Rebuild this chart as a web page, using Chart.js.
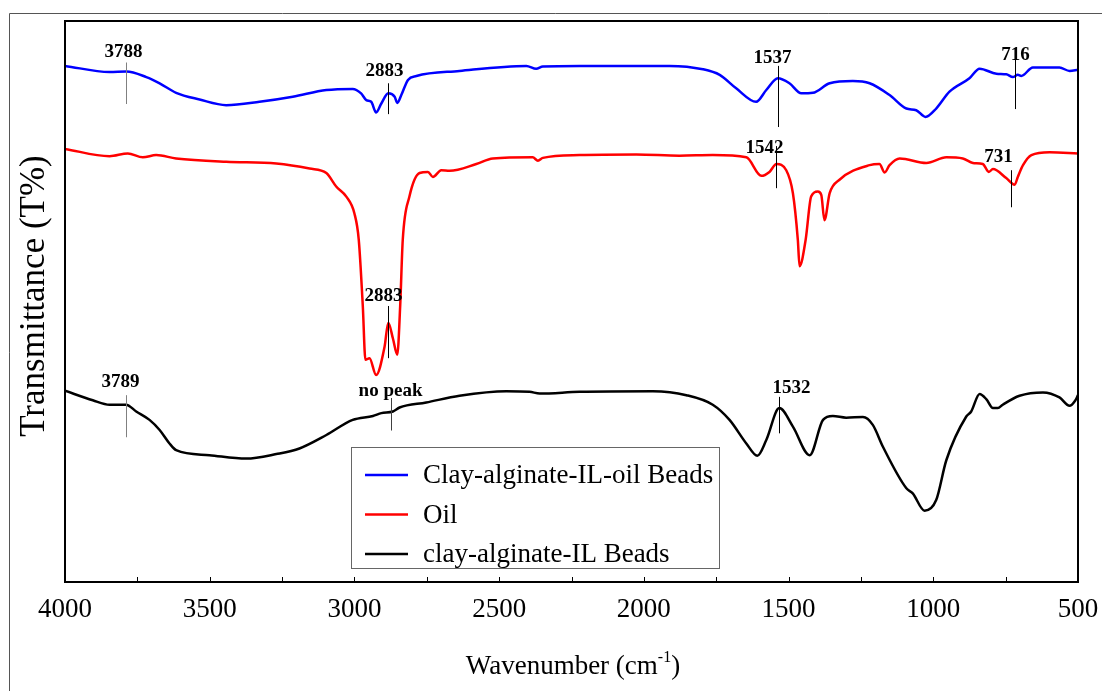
<!DOCTYPE html>
<html>
<head>
<meta charset="utf-8">
<script src="https://cdn.jsdelivr.net/npm/chart.js@4.4.1/dist/chart.umd.min.js"></script>
<style>
  html, body { margin: 0; padding: 0; background: #ffffff; }
  #wrap { width: 1102px; height: 691px; }
</style>
</head>
<body>
<div id="wrap"><canvas id="ftir" width="1102" height="691"></canvas></div>
<script>
// FTIR spectra: wavenumber (cm-1) vs. transmittance (offset, arbitrary units)
const seriesNames = ['Clay-alginate-IL-oil Beads', 'Oil', 'clay-alginate-IL Beads'];
const seriesColors = ['#0000ff', '#ff0000', '#000000'];

const beadsOilWavenumber = [4000, 3846, 3788, 3719, 3673, 3616, 3535, 3443, 3328, 3213, 3097, 3006, 2977, 2959, 2942, 2925, 2907, 2883, 2861, 2852, 2838, 2815, 2786, 2637, 2406, 2372, 2349, 2222, 1911, 1796, 1738, 1681, 1612, 1577, 1537, 1497, 1456, 1416, 1358, 1278, 1220, 1151, 1093, 1059, 1027, 990, 944, 875, 840, 782, 748, 725, 708, 696, 656, 564, 529, 500];
const beadsOilT = [92.0, 90.9, 91.0, 90.0, 88.9, 87.2, 86.0, 85.0, 85.6, 86.5, 87.7, 87.9, 87.1, 85.9, 85.6, 83.7, 85.3, 87.1, 86.5, 85.4, 86.8, 89.5, 90.2, 91.1, 92.0, 91.5, 91.9, 92.0, 92.0, 91.4, 90.4, 88.0, 85.6, 87.7, 89.8, 88.9, 87.1, 87.2, 88.9, 89.3, 88.9, 86.8, 84.4, 84.1, 82.9, 84.4, 87.4, 89.8, 91.5, 90.6, 90.5, 90.0, 90.4, 90.2, 91.7, 91.7, 91.1, 91.3];

const oilWavenumber = [4000, 3846, 3783, 3731, 3685, 3616, 3443, 3270, 3155, 3097, 3063, 3028, 3000, 2985, 2971, 2962, 2948, 2925, 2896, 2883, 2867, 2852, 2842, 2833, 2810, 2775, 2746, 2729, 2700, 2671, 2579, 2522, 2384, 2366, 2349, 2222, 2026, 1877, 1762, 1646, 1594, 1566, 1542, 1508, 1485, 1468, 1462, 1441, 1422, 1399, 1387, 1376, 1358, 1324, 1220, 1186, 1168, 1151, 1116, 1024, 955, 898, 863, 829, 808, 794, 748, 719, 708, 690, 661, 598, 500];
const oilT = [77.2, 75.9, 76.4, 75.7, 76.1, 75.5, 74.9, 74.6, 73.7, 72.9, 70.5, 68.7, 65.7, 61.0, 49.1, 39.6, 39.9, 36.9, 41.9, 46.2, 43.4, 40.5, 49.1, 61.0, 68.7, 72.9, 73.1, 72.2, 73.4, 73.3, 74.5, 75.5, 75.7, 75.1, 75.6, 76.1, 76.2, 76.0, 76.1, 75.7, 72.4, 73.1, 74.5, 73.4, 69.3, 61.0, 56.3, 61.0, 68.7, 69.6, 69.0, 64.5, 69.3, 71.7, 74.3, 74.5, 73.0, 74.3, 75.5, 74.7, 75.7, 75.5, 74.7, 74.5, 73.1, 73.6, 72.0, 70.8, 72.2, 74.3, 76.1, 76.6, 76.4];

const beadsWavenumber = [4000, 3904, 3846, 3789, 3754, 3708, 3673, 3639, 3616, 3501, 3374, 3270, 3190, 3097, 3006, 2936, 2907, 2867, 2844, 2752, 2637, 2475, 2395, 2360, 2222, 1969, 1853, 1762, 1704, 1646, 1608, 1577, 1532, 1485, 1427, 1381, 1347, 1301, 1243, 1209, 1174, 1093, 1071, 1030, 990, 955, 886, 869, 840, 817, 794, 777, 760, 702, 621, 564, 529, 510, 500];
const beadsT = [34.1, 32.4, 31.6, 31.6, 30.4, 28.9, 27.1, 24.7, 23.5, 22.6, 22.0, 22.8, 23.8, 26.2, 28.9, 29.6, 30.1, 30.4, 31.1, 32.0, 33.2, 34.0, 33.9, 33.6, 33.9, 34.0, 33.3, 31.6, 28.9, 24.7, 22.5, 25.3, 31.0, 27.7, 22.6, 28.9, 29.6, 29.3, 29.4, 28.0, 24.1, 16.7, 15.8, 12.7, 14.6, 21.7, 29.5, 30.4, 33.5, 32.6, 31.0, 31.0, 31.6, 33.2, 33.8, 32.9, 31.4, 32.3, 33.3];

// x-axis ticks (cm-1): labelled every 500, minor marks every 250
const xTickLabels = [4000, 3500, 3000, 2500, 2000, 1500, 1000, 500];

// marked peaks
const peakSeries = [0, 0, 0, 0, 1, 1, 1, 2, 2, 2];
const peakWavenumber = [3788, 2883, 1537, 716, 1542, 731, 2883, 3789, 2872, 1532];
const peakText = ['3788', '2883', '1537', '716', '1542', '731', '2883', '3789', 'no peak', '1532'];

// placement of each peak marker: text centre (y, px shift) and marker line ends, in axis units
const peakLayout = [
  { textY: 94.5, dx: -3,  top: 92.6, bottom: 85.2, color: '#808080' },
  { textY: 91.1, dx: -4,  top: 88.9, bottom: 83.4, color: '#000000' },
  { textY: 93.4, dx: -6,  top: 92.0, bottom: 81.1, color: '#000000' },
  { textY: 93.9, dx: 0,   top: 93.6, bottom: 84.3, color: '#000000' },
  { textY: 77.3, dx: -12, top: 77.7, bottom: 70.2, color: '#000000' },
  { textY: 75.7, dx: -13, top: 73.4, bottom: 66.8, color: '#000000' },
  { textY: 51.0, dx: -5,  top: 49.2, bottom: 39.9, color: '#000000' },
  { textY: 35.7, dx: -6,  top: 33.3, bottom: 25.8, color: '#808080' },
  { textY: 34.0, dx: -1,  top: 32.8, bottom: 27.0, color: '#404040' },
  { textY: 34.6, dx: 12,  top: 33.0, bottom: 26.5, color: '#000000' }
];

function toPoints(xs, ys) {
  return xs.map((x, i) => ({ x: x, y: ys[i] }));
}

const SERIF = '"Liberation Serif", "Times New Roman", serif';

// frame, tick marks, peak markers, axis titles and the legend box
const decorations = {
  id: 'decorations',
  afterDatasetsDraw(chart) {
    const ctx = chart.ctx;
    const a = chart.chartArea;
    const xs = chart.scales.x;
    const ys = chart.scales.y;
    ctx.save();

    // outer figure border
    ctx.strokeStyle = '#555555';
    ctx.lineWidth = 1;
    ctx.beginPath();
    ctx.moveTo(9.5, 691);
    ctx.lineTo(9.5, 13.5);
    ctx.lineTo(1102, 13.5);
    ctx.stroke();

    // plot frame
    ctx.strokeStyle = '#000000';
    ctx.lineWidth = 2;
    ctx.strokeRect(a.left, a.top, a.right - a.left, a.bottom - a.top);

    // inward tick marks on the wavenumber axis
    ctx.lineWidth = 1;
    for (let w = 750; w < 4000; w += 250) {
      const px = Math.round(xs.getPixelForValue(w)) + 0.5;
      ctx.beginPath();
      ctx.moveTo(px, a.bottom);
      ctx.lineTo(px, a.bottom - 5);
      ctx.stroke();
    }

    // peak markers
    ctx.font = 'bold 19px ' + SERIF;
    ctx.textAlign = 'center';
    ctx.textBaseline = 'middle';
    peakWavenumber.forEach((w, i) => {
      const L = peakLayout[i];
      const px = Math.round(xs.getPixelForValue(w)) + 0.5;
      ctx.strokeStyle = L.color;
      ctx.lineWidth = 1;
      ctx.beginPath();
      ctx.moveTo(px, ys.getPixelForValue(L.top));
      ctx.lineTo(px, ys.getPixelForValue(L.bottom));
      ctx.stroke();
      ctx.fillStyle = '#000000';
      ctx.fillText(peakText[i], px + L.dx, ys.getPixelForValue(L.textY));
    });

    // y-axis title
    ctx.save();
    ctx.translate(35, 296);
    ctx.rotate(-Math.PI / 2);
    ctx.font = '35px ' + SERIF;
    ctx.fillStyle = '#000000';
    ctx.textAlign = 'center';
    ctx.textBaseline = 'middle';
    ctx.fillText('Transmittance (T%)', 0, 0);
    ctx.restore();

    // x-axis title with superscript
    const main1 = 'Wavenumber (cm';
    const sup = '-1';
    const main2 = ')';
    ctx.textBaseline = 'alphabetic';
    ctx.textAlign = 'left';
    ctx.font = '27px ' + SERIF;
    const w1 = ctx.measureText(main1).width;
    const w3 = ctx.measureText(main2).width;
    ctx.font = '16px ' + SERIF;
    const w2 = ctx.measureText(sup).width;
    const total = w1 + w2 + w3;
    let x0 = 573 - total / 2;
    const base = 674;
    ctx.font = '27px ' + SERIF;
    ctx.fillText(main1, x0, base);
    ctx.font = '16px ' + SERIF;
    ctx.fillText(sup, x0 + w1, base - 12);
    ctx.font = '27px ' + SERIF;
    ctx.fillText(main2, x0 + w1 + w2, base);

    // legend
    const bx = 351.5, by = 447.5, bw = 368, bh = 121;
    ctx.fillStyle = '#ffffff';
    ctx.fillRect(bx, by, bw, bh);
    ctx.strokeStyle = '#666666';
    ctx.lineWidth = 1;
    ctx.strokeRect(bx, by, bw, bh);
    ctx.font = '27px ' + SERIF;
    ctx.textBaseline = 'middle';
    chart.data.datasets.forEach((ds, i) => {
      const ly = 475 + i * 39.5;
      ctx.strokeStyle = ds.borderColor;
      ctx.lineWidth = 2.5;
      ctx.beginPath();
      ctx.moveTo(365, ly);
      ctx.lineTo(408, ly);
      ctx.stroke();
      ctx.fillStyle = '#000000';
      ctx.fillText(ds.label, 423, ly + 1);
    });

    ctx.restore();
  }
};

const datasets = [
  toPoints(beadsOilWavenumber, beadsOilT),
  toPoints(oilWavenumber, oilT),
  toPoints(beadsWavenumber, beadsT)
].map((pts, i) => ({
  label: seriesNames[i],
  data: pts,
  borderColor: seriesColors[i],
  borderWidth: 2.5,
  pointRadius: 0,
  fill: false,
  cubicInterpolationMode: 'monotone'
}));

new Chart(document.getElementById('ftir'), {
  type: 'line',
  data: { datasets: datasets },
  options: {
    responsive: false,
    devicePixelRatio: 1,
    animation: false,
    layout: { padding: { left: 0, top: 21, right: 24, bottom: 0 } },
    plugins: {
      legend: { display: false },
      tooltip: { enabled: false }
    },
    scales: {
      x: {
        type: 'linear',
        reverse: true,
        min: 500,
        max: 4000,
        grid: { display: false, drawTicks: false },
        border: { display: false },
        ticks: {
          stepSize: 250,
          autoSkip: false,
          maxRotation: 0,
          padding: 12,
          color: '#000000',
          font: { family: SERIF, size: 27 },
          callback: (v) => (xTickLabels.includes(v) ? String(v) : '')
        },
        afterFit: (s) => { s.height = 109; s.paddingLeft = 0; s.paddingRight = 0; }
      },
      y: {
        min: 0,
        max: 100,
        grid: { display: false, drawTicks: false },
        border: { display: false },
        ticks: { display: false },
        afterFit: (s) => { s.width = 65; s.paddingTop = 0; s.paddingBottom = 0; }
      }
    }
  },
  plugins: [decorations]
});
</script>
</body>
</html>
